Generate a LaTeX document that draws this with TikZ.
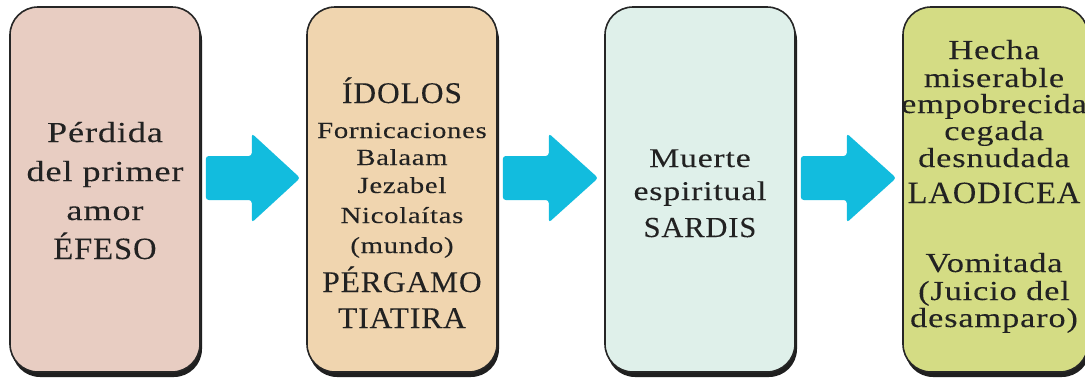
\documentclass[tikz,border=0pt]{standalone}
\usepackage{fontspec}
\setmainfont{Liberation Serif}[FakeStretch=1.25,LetterSpace=3,FakeBold=0.1]
\newfontfamily\capsfam{Liberation Serif}[FakeStretch=1.05,LetterSpace=3,FakeBold=0.1]
\usetikzlibrary{calc,shadows}
\definecolor{boxA}{HTML}{E8CDC2}
\definecolor{boxB}{HTML}{F0D5AF}
\definecolor{boxC}{HTML}{DFF0EA}
\definecolor{boxD}{HTML}{D4DC84}
\definecolor{arrcol}{HTML}{12BCDE}
\definecolor{txtcol}{HTML}{222222}
\newcommand\blockarrow[2]{%
  \fill[arrcol, rounded corners=3pt] let \p1=(#1.east), \p2=(#2.west) in
    (\x1+5pt,\y1+33.5pt) -- (\x1+51pt,\y1+33.5pt) -- (\x1+51pt,\y1+56pt)
    -- (\x2-6pt,\y1+11.5pt) -- (\x1+51pt,\y1-33pt) -- (\x1+51pt,\y1-10.5pt)
    -- (\x1+5pt,\y1-10.5pt) -- cycle;}
\begin{document}
\begin{tikzpicture}[x=1pt,y=-1pt,
  box/.style={draw=black!85, line width=1.6pt, rounded corners=28pt,
    minimum height=365pt, inner sep=0pt,
    drop shadow={shadow xshift=2pt,shadow yshift=-5pt,fill=black!88,opacity=1}},
  ln/.style={anchor=base, inner sep=0pt, text=txtcol},
  fa/.style={font=\fontsize{29}{35}\selectfont},
  fA/.style={font=\capsfam\fontsize{31}{35}\selectfont},
  fb/.style={font=\fontsize{23}{28}\selectfont},
  fB/.style={font=\capsfam\fontsize{30}{32}\selectfont},
  fc/.style={font=\fontsize{27}{33}\selectfont},
  fC/.style={font=\capsfam\fontsize{29}{33}\selectfont},
  fd/.style={font=\fontsize{27.5}{33}\selectfont},
  fD/.style={font=\capsfam\fontsize{31}{33}\selectfont}]
\useasboundingbox (0,0) rectangle (1085,383);
\fill[white] (0,0) rectangle (1085,383);
% boxes
\node[box, fill=boxA, minimum width=190pt] (b1) at (105,189.5) {};
\node[box, fill=boxB, minimum width=190pt] (b2) at (402,189.5) {};
\node[box, fill=boxC, minimum width=190pt] (b3) at (700,189.5) {};
\node[box, fill=boxD, minimum width=185pt] (b4) at (995.5,189.5) {};
% arrows
\blockarrow{b1}{b2}
\blockarrow{b2}{b3}
\blockarrow{b3}{b4}
% box 1 text
\node[ln,fa] (t1a) at (105,142) {Pérdida};
\node[ln,fa] (t1b) at (105,181) {del primer};
\node[ln,fa] (t1c) at (105,220) {amor};
\node[ln,fA] (t1d) at (105,259) {ÉFESO};
% box 2 text
\node[ln,fB] (t2a) at (402,103) {ÍDOLOS};
\node[ln,fb] (t2b) at (402,138) {Fornicaciones};
\node[ln,fb] (t2c) at (402,165) {Balaam};
\node[ln,fb] (t2d) at (402,193) {Jezabel};
\node[ln,fb] (t2e) at (402,223) {Nicolaítas};
\node[ln,fb] (t2f) at (402,253) {(mundo)};
\node[ln,fB] (t2g) at (402,292) {PÉRGAMO};
\node[ln,fB] (t2h) at (402,328) {TIATIRA};
% box 3 text
\node[ln,fc] (t3a) at (700,167) {Muerte};
\node[ln,fc] (t3b) at (700,200) {espiritual};
\node[ln,fC] (t3c) at (700,237) {SARDIS};
% box 4 text
\node[ln,fd] (t4a) at (994,59) {Hecha};
\node[ln,fd] (t4b) at (994,87) {miserable};
\node[ln,fd] (t4c) at (994,113) {empobrecida};
\node[ln,fd] (t4d) at (994,140) {cegada};
\node[ln,fd] (t4e) at (994,167) {desnudada};
\node[ln,fD] (t4f) at (994,203) {LAODICEA};
\node[ln,fd] (t4g) at (994,272) {Vomitada};
\node[ln,fd] (t4h) at (994,300) {(Juicio del};
\node[ln,fd] (t4i) at (994,327) {desamparo)};
\end{tikzpicture}
\end{document}
